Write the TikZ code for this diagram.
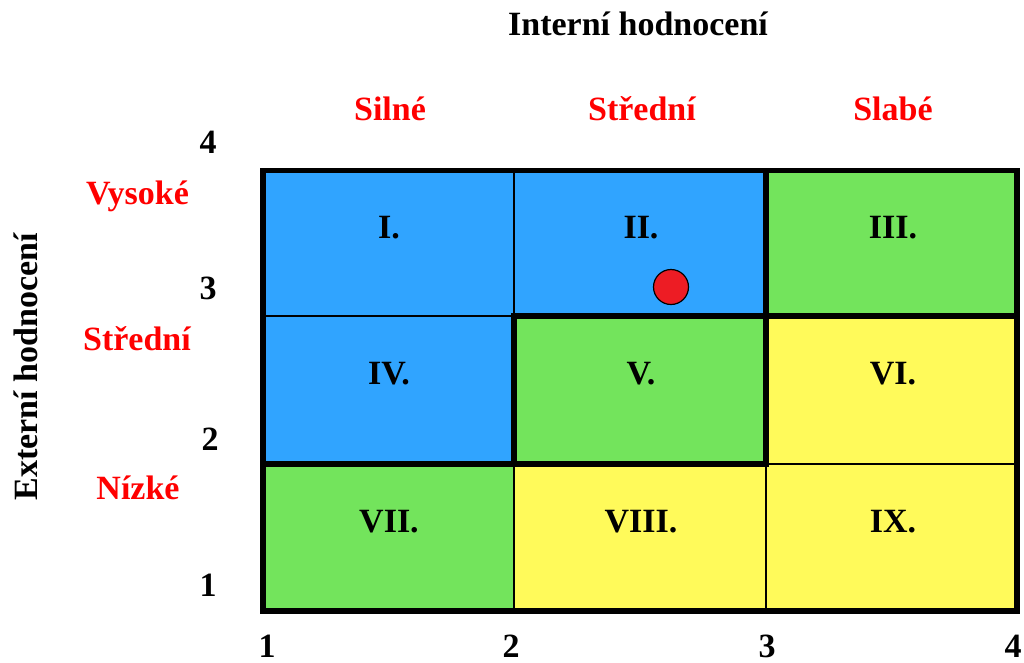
\documentclass[tikz,border=0pt]{standalone}
\usepackage{fontspec}
\setmainfont{Liberation Serif}
\definecolor{cellblue}{RGB}{48,164,255}
\definecolor{cellgreen}{RGB}{115,228,92}
\definecolor{cellyellow}{RGB}{255,250,90}
\definecolor{dotred}{RGB}{237,28,36}
\begin{document}
\begin{tikzpicture}[x=1pt,y=-1pt,
  lbl/.style={font=\fontsize{34}{37}\selectfont\bfseries, inner sep=0pt, anchor=base},
  redlbl/.style={lbl, text=red},
  thin line/.style={line width=1.3pt},
  heavy line/.style={line width=5.5pt, line cap=rect}]
\useasboundingbox (0,0) rectangle (1024,662);
\fill[white] (0,0) rectangle (1024,662);

% cell fills
\fill[cellblue]   (263,170.5) rectangle (766,316);
\fill[cellgreen]  (766,170.5) rectangle (1017,316);
\fill[cellblue]   (263,316) rectangle (514,464);
\fill[cellgreen]  (514,316) rectangle (766,464);
\fill[cellyellow] (766,316) rectangle (1017,464);
\fill[cellgreen]  (263,464) rectangle (514,611);
\fill[cellyellow] (514,464) rectangle (1017,611);

% thin cell borders
\draw[thin line] (514,170.5) -- (514,316);
\draw[thin line] (263,316) -- (514,316);
\draw[thin line] (514,464) -- (514,611);
\draw[thin line] (766,464) -- (766,611);
\draw[thin line] (766,464) -- (1017,464);

% heavy borders of the middle band
\draw[heavy line] (766,170.5) -- (766,464);
\draw[heavy line] (514,316) -- (1017,316);
\draw[heavy line] (514,316) -- (514,464);
\draw[heavy line] (263,464) -- (766,464);

% outer frame
\draw[line width=5.5pt] (263,170.5) rectangle (1017,611);

% marker
\node[circle, draw=black, line width=1.2pt, fill=dotred, minimum size=35pt, inner sep=0pt] (dot) at (671,287) {};

% cell numerals
\node[lbl] (n1) at (389,238) {I.};
\node[lbl] (n2) at (641,238) {II.};
\node[lbl] (n3) at (893,238) {III.};
\node[lbl] (n4) at (389,384) {IV.};
\node[lbl] (n5) at (641,384) {V.};
\node[lbl] (n6) at (893,384) {VI.};
\node[lbl] (n7) at (389,532) {VII.};
\node[lbl] (n8) at (641,532) {VIII.};
\node[lbl] (n9) at (893,532) {IX.};

% axis titles
\node[lbl] (xtitle) at (638,35) {Interní hodnocení};
\node[lbl, rotate=90] (ytitle) at (37,367) {Externí hodnocení};

% column categories
\node[redlbl] (colA) at (390,120) {Silné};
\node[redlbl] (colB) at (642,120) {Střední};
\node[redlbl] (colC) at (893,120) {Slabé};

% row categories
\node[redlbl] (rowA) at (137.5,204) {Vysoké};
\node[redlbl] (rowB) at (137,350) {Střední};
\node[redlbl] (rowC) at (138,499) {Nízké};

% vertical scale
\node[lbl] (y4) at (208,153) {4};
\node[lbl] (y3) at (208,299) {3};
\node[lbl] (y2) at (210,450) {2};
\node[lbl] (y1) at (208,596) {1};

% horizontal scale
\node[lbl] (x1) at (267,657) {1};
\node[lbl] (x2) at (511,657) {2};
\node[lbl] (x3) at (767,657) {3};
\node[lbl] (x4) at (1013,657) {4};
\end{tikzpicture}
\end{document}
